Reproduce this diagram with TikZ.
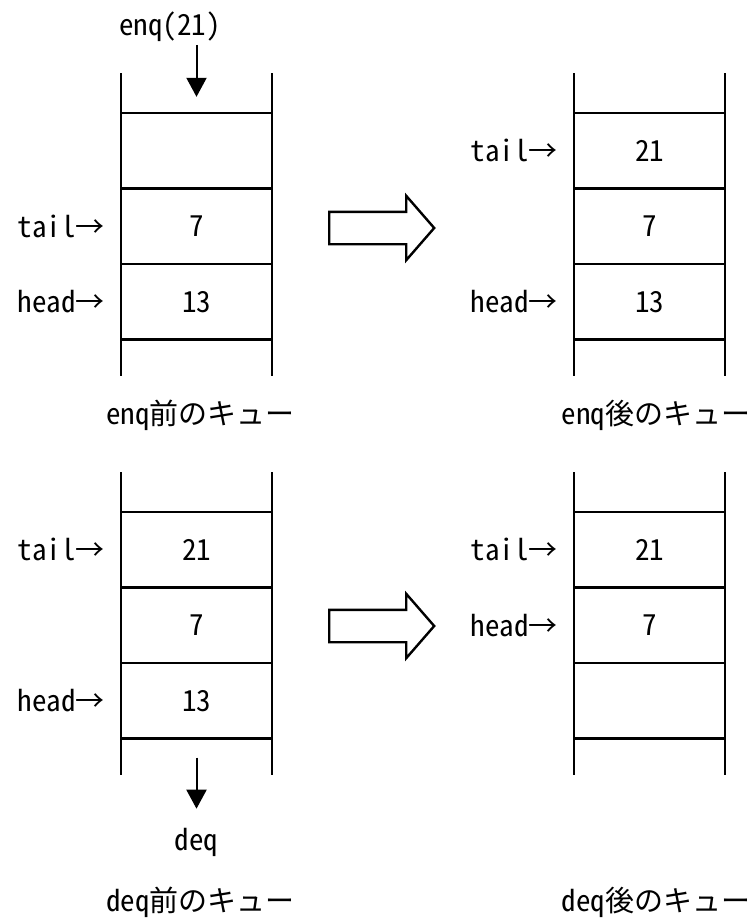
\documentclass[tikz,border=0pt]{standalone}
\usepackage{fontspec}
\setmainfont{Noto Sans CJK JP}
\newfontfamily\hankaku{Noto Sans CJK JP}[RawFeature=+hwid]
\usetikzlibrary{positioning}
\usetikzlibrary{shapes.arrows}
\usetikzlibrary{arrows.meta}
\usetikzlibrary{calc}

\newcommand\ptrlabel[1]{{\hankaku #1}→}

\tikzset{
  wall/.style={line width=2.2pt},
  txt/.style={inner sep=0pt, font=\fontsize{29}{34}\selectfont},
  cell/.style={inner sep=0pt, minimum width=151pt, minimum height=75.5pt, font=\fontsize{29}{34}\selectfont\hankaku},
  ptr/.style={txt, left=16pt of #1},
  flow/.style={draw, line width=2.4pt, single arrow, single arrow head extend=16pt,
    single arrow tip angle=98, minimum height=105pt, inner xsep=0pt, inner ysep=15pt},
  push/.style={line width=2pt, -{Triangle[length=19pt,width=20pt]}}
}

\begin{document}
\begin{tikzpicture}[x=1pt,y=-1pt]
  \useasboundingbox (0,0) rectangle (751,918);

  % the four queues: two walls and the cell borders
  \foreach \x/\y in {121/73, 574/73, 121/472, 574/472} {
    \draw[wall] (\x,\y) -- ++(0,303) (\x+151,\y) -- ++(0,303);
    \foreach \k in {40,115.5,191,266.5}
      \draw[wall] (\x,\y+\k) -- ++(151,0);
  }

  % enq: before
  \node [cell] (v11) at (196.5,150.75) {};
  \node [cell] (v12) at (196.5,226.25) {7};
  \node [cell] (v13) at (196.5,301.75) {13};
  \node [txt, ptr=v12] {\ptrlabel{tail}};
  \node [txt, ptr=v13] {\ptrlabel{head}};
  \node [txt] (enq) at (170,27) {\hankaku enq(21)};
  \draw [push] ([yshift=68pt]v11.north) -- ([yshift=16pt]v11.north);
  \node [txt] (cap1) at (200.5,415) {{\hankaku enq}前のキュー};

  \node [flow, anchor=tail] (go1) at (328,228) {};

  % enq: after
  \node [cell] (v21) at (649.5,150.75) {21};
  \node [cell] (v22) at (649.5,226.25) {7};
  \node [cell] (v23) at (649.5,301.75) {13};
  \node [txt, ptr=v21] {\ptrlabel{tail}};
  \node [txt, ptr=v23] {\ptrlabel{head}};
  \node [txt] (cap2) at (656,415) {{\hankaku enq}後のキュー};

  % deq: before
  \node [cell] (v31) at (196.5,549.75) {21};
  \node [cell] (v32) at (196.5,625.25) {7};
  \node [cell] (v33) at (196.5,700.75) {13};
  \node [txt, ptr=v31] {\ptrlabel{tail}};
  \node [txt, ptr=v33] {\ptrlabel{head}};
  \draw [push] ([yshift=-19pt]v33.south) -- ([yshift=-70pt]v33.south);
  \node [txt, anchor=north] (deq) at (196.5,828) {\hankaku deq};
  \node [txt] (cap3) at (200.5,902) {{\hankaku deq}前のキュー};

  \node [flow, anchor=tail] (go2) at (328,626) {};

  % deq: after
  \node [cell] (v41) at (649.5,549.75) {21};
  \node [cell] (v42) at (649.5,625.25) {7};
  \node [txt, ptr=v41] {\ptrlabel{tail}};
  \node [txt, ptr=v42] {\ptrlabel{head}};
  \node [txt] (cap4) at (656,902) {{\hankaku deq}後のキュー};
\end{tikzpicture}
\end{document}
